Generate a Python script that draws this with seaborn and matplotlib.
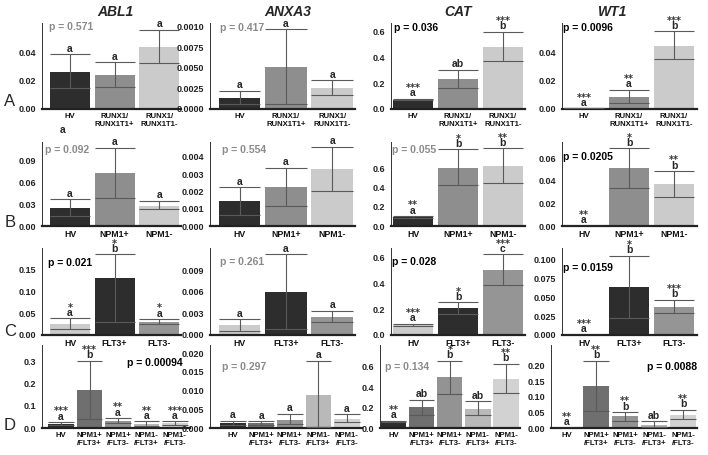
"""Small-multiples bar chart: expression of 4 genes across patient groups"""
import numpy as np
import pandas as pd
import matplotlib
matplotlib.use("Agg")
import matplotlib.pyplot as plt
import seaborn as sns

sns.set_theme(style="white")
plt.rcParams["font.family"] = ["Liberation Sans", "DejaVu Sans"]

# ---------------- data ----------------
genes = ["ABL1", "ANXA3", "CAT", "WT1"]
rows = ["A", "B", "C", "D"]

groups_A = ["HV", "RUNX1/\nRUNX1T1+", "RUNX1/\nRUNX1T1-"]
groups_B = ["HV", "NPM1+", "NPM1-"]
groups_C = ["HV", "FLT3+", "FLT3-"]
groups_D = ["HV", "NPM1+\n/FLT3+", "NPM1+\n/FLT3-", "NPM1-\n/FLT3+", "NPM1-\n/FLT3-"]

# means / lower / upper error per gene (ABL1, ANXA3, CAT, WT1)
mean_A = [[0.0264, 0.0240, 0.0440], [0.0013, 0.0051, 0.0026], [0.070, 0.231, 0.486], [0.0004, 0.0088, 0.0450]]
low_A = [[0.0146, 0.0153, 0.0327], [0.0006, 0.0006, 0.0017], [0.068, 0.161, 0.374], [0.0004, 0.0040, 0.0353]]
high_A = [[0.0388, 0.0330, 0.0558], [0.0022, 0.0097, 0.0035], [0.080, 0.304, 0.603], [0.0004, 0.0135, 0.0550]]

mean_B = [[0.0243, 0.0735, 0.0280], [0.00146, 0.00227, 0.00329], [0.088, 0.603, 0.620], [0.0003, 0.0517, 0.0372]]
low_B = [[0.0138, 0.0380, 0.0234], [0.00063, 0.00117, 0.00204], [0.086, 0.421, 0.448], [0.0003, 0.0340, 0.0260]]
high_B = [[0.0367, 0.1080, 0.0350], [0.00223, 0.00336, 0.00458], [0.103, 0.793, 0.803], [0.0003, 0.0688, 0.0487]]

mean_C = [[0.0243, 0.1290, 0.0290], [0.00138, 0.00590, 0.00254], [0.077, 0.206, 0.502], [0.0002, 0.0639, 0.0374]]
low_C = [[0.0130, 0.0300, 0.0250], [0.00055, 0.00083, 0.00175], [0.070, 0.160, 0.386], [0.0002, 0.0229, 0.0286]]
high_C = [[0.0380, 0.1840, 0.0360], [0.00217, 0.01117, 0.00337], [0.085, 0.252, 0.623], [0.0002, 0.1048, 0.0463]]

mean_D = [[0.018, 0.169, 0.033, 0.018, 0.0225],
          [0.00134, 0.00134, 0.0022, 0.0089, 0.0025],
          [0.066, 0.203, 0.498, 0.190, 0.485],
          [0.0003, 0.134, 0.0374, 0.0107, 0.0428]]
low_D = [[0.012, 0.040, 0.022, 0.0105, 0.015],
         [0.0007, 0.0009, 0.0011, 0.0002, 0.0016],
         [0.062, 0.131, 0.334, 0.125, 0.344],
         [0.0003, 0.0556, 0.0235, 0.002, 0.030]]
high_D = [[0.027, 0.303, 0.045, 0.030, 0.030],
          [0.0020, 0.0018, 0.0038, 0.0180, 0.0037],
          [0.070, 0.279, 0.662, 0.262, 0.630],
          [0.0003, 0.216, 0.051, 0.0214, 0.0588]]

letters_A = [["a", "a", "a"], ["a", "a", "a"], ["a", "ab", "b"], ["a", "a", "b"]]
stars_A = [["", "", ""], ["", "", ""], ["***", "", "***"], ["***", "**", "***"]]
letters_B = [["a", "a", "a"], ["a", "a", "a"], ["a", "b", "b"], ["a", "b", "b"]]
stars_B = [["", "", ""], ["", "", ""], ["**", "*", "**"], ["**", "*", "**"]]
letters_C = [["a", "b", "a"], ["a", "a", "a"], ["a", "b", "c"], ["a", "b", "b"]]
stars_C = [["*", "*", "*"], ["", "", ""], ["***", "*", "***"], ["***", "*", "***"]]
letters_D = [["a", "b", "a", "a", "a"], ["a", "a", "a", "a", "a"],
             ["a", "ab", "b", "ab", "b"], ["a", "b", "b", "ab", "b"]]
stars_D = [["***", "***", "**", "**", "***"], ["", "", "", "", ""],
           ["**", "", "*", "", "**"], ["**", "**", "**", "", "**"]]

pvals_A = ["0.571", "0.417", "0.036", "0.0096"]
pvals_B = ["0.092", "0.554", "0.055", "0.0205"]
pvals_C = ["0.021", "0.261", "0.028", "0.0159"]
pvals_D = ["0.00094", "0.297", "0.134", "0.0088"]

yticks_A = [[0, 0.02, 0.04], [0, 0.0025, 0.005, 0.0075, 0.01], [0, 0.2, 0.4, 0.6], [0, 0.02, 0.04]]
ytlab_A = [["0.00", "0.02", "0.04"], ["0.0000", "0.0025", "0.0050", "0.0075", "0.0010"],
           ["0.0", "0.2", "0.4", "0.6"], ["0.00", "0.02", "0.04"]]
yticks_B = [[0, 0.03, 0.06, 0.09], [0, 0.001, 0.002, 0.003, 0.004], [0, 0.2, 0.4, 0.6], [0, 0.02, 0.04, 0.06]]
ytlab_B = [["0.00", "0.03", "0.06", "0.09"], ["0.000", "0.001", "0.002", "0.003", "0.004"],
           ["0.0", "0.2", "0.4", "0.6"], ["0.00", "0.02", "0.04", "0.06"]]
yticks_C = [[0, 0.05, 0.10, 0.15], [0, 0.003, 0.006, 0.009], [0, 0.2, 0.4, 0.6], [0, 0.025, 0.05, 0.075, 0.1]]
ytlab_C = [["0.00", "0.05", "0.10", "0.15"], ["0.000", "0.003", "0.006", "0.009"],
           ["0.0", "0.2", "0.4", "0.6"], ["0.000", "0.025", "0.050", "0.075", "0.100"]]
yticks_D = [[0, 0.1, 0.2, 0.3], [0, 0.005, 0.01, 0.015, 0.02], [0, 0.2, 0.4, 0.6], [0, 0.05, 0.1, 0.15, 0.2]]
ytlab_D = [["0.0", "0.1", "0.2", "0.3"], ["0.000", "0.005", "0.010", "0.015", "0.020"],
           ["0.0", "0.2", "0.4", "0.6"], ["0.00", "0.05", "0.10", "0.15", "0.20"]]

colors_A = ["#2d2d2d", "#8e8e8e", "#cbcbcb"]
colors_B = ["#2d2d2d", "#8e8e8e", "#cbcbcb"]
colors_C = ["#cbcbcb", "#2d2d2d", "#959595"]
colors_D = ["#2d2d2d", "#6f6f6f", "#939393", "#b9b9b9", "#d2d2d2"]

# ---------------- layout (pixels of a 708x455 figure) ----------------
W, H = 708, 455
row_px = [(23, 109), (142, 226), (248, 335), (345, 428)]
col_px = [[(42, 181), (210, 355), (391, 525), (562, 697)]] * 3 + [[(42, 190), (210, 362), (380, 520), (551, 697)]]
xlims = [[(-0.63, 2.49), (-0.64, 2.49), (-0.49, 2.49), (-0.49, 2.51)]] * 3 + \
        [[(-0.67, 4.53), (-0.8, 4.53), (-0.49, 4.5), (-0.55, 4.48)]]
ylims = [[0.0607, 0.01044, 0.67, 0.061],
         [0.1158, 0.00485, 0.869, 0.0744],
         [0.1986, 0.01205, 0.672, 0.115],
         [0.374, 0.0222, 0.816, 0.266]]
ppos = [[(0.05, 0.95, "left"), (0.07, 0.94, "left"), (0.02, 0.94, "left"), (0.01, 0.94, "left")],
        [(0.02, 0.90, "left"), (0.08, 0.90, "left"), (0.01, 0.90, "left"), (0.01, 0.82, "left")],
        [(0.04, 0.83, "left"), (0.07, 0.84, "left"), (0.01, 0.84, "left"), (0.01, 0.77, "left")],
        [(0.95, 0.78, "right"), (0.08, 0.74, "left"), (0.036, 0.74, "left"), (1.0, 0.74, "right")]]
xlab_size = [5.6, 6.3, 6.3, 5.6]

ERR = "#5a5a5a"
GRAY_TXT = "#8a8a8a"
BOLD = dict(fontweight="bold")
STAR_FONT = ["DejaVu Sans"]

all_groups = [groups_A, groups_B, groups_C, groups_D]
all_mean = [mean_A, mean_B, mean_C, mean_D]
all_low = [low_A, low_B, low_C, low_D]
all_high = [high_A, high_B, high_C, high_D]
all_letters = [letters_A, letters_B, letters_C, letters_D]
all_stars = [stars_A, stars_B, stars_C, stars_D]
all_p = [pvals_A, pvals_B, pvals_C, pvals_D]
all_ticks = [yticks_A, yticks_B, yticks_C, yticks_D]
all_tlab = [ytlab_A, ytlab_B, ytlab_C, ytlab_D]
all_colors = [colors_A, colors_B, colors_C, colors_D]

fig = plt.figure(figsize=(W / 100, H / 100), dpi=100)
fig.patch.set_facecolor("white")

for r in range(4):
    top, bot = row_px[r]
    groups = all_groups[r]
    for c in range(4):
        left, right = col_px[r][c]
        ax = fig.add_axes([left / W, 1 - bot / H, (right - left) / W, (bot - top) / H])
        ax.set_facecolor("none")
        df = pd.DataFrame({"group": groups, "value": all_mean[r][c]})
        sns.barplot(data=df, x="group", y="value", hue="group", order=groups, hue_order=groups,
                    palette=all_colors[r], width=0.9, saturation=1, legend=False,
                    errorbar=None, linewidth=0, ax=ax)
        xs = np.arange(len(groups))
        lo = np.array(all_low[r][c])
        hi = np.array(all_high[r][c])
        ax.vlines(xs, lo, hi, color=ERR, lw=0.8, zorder=3)
        ax.hlines(hi, xs - 0.45, xs + 0.45, color=ERR, lw=0.8, zorder=3)
        ax.hlines(lo, xs - 0.45, xs + 0.45, color=ERR, lw=0.8, zorder=3)

        for i, x in enumerate(xs):
            ax.annotate(all_letters[r][c][i], (x, hi[i]), xytext=(0, 1.8), textcoords="offset points",
                        ha="center", va="baseline", fontsize=7.5, annotation_clip=False, **BOLD)
            if all_stars[r][c][i]:
                ax.annotate(all_stars[r][c][i], (x, hi[i]), xytext=(0, 5.6), textcoords="offset points",
                            ha="center", va="baseline", fontsize=7, color="#333333",
                            family=STAR_FONT, annotation_clip=False, **BOLD)

        ax.set_xlim(*xlims[r][c])
        ax.set_ylim(0, ylims[r][c])
        ax.set_yticks(all_ticks[r][c])
        ax.set_yticklabels(all_tlab[r][c], fontsize=6.5, **BOLD)
        ax.set_xticks(xs)
        ax.set_xticklabels(groups, fontsize=xlab_size[r], linespacing=1.1, **BOLD)
        ax.tick_params(axis="y", length=3, width=0.6, pad=1, direction="out", colors="#222222")
        ax.tick_params(axis="x", length=0, pad=3, colors="#111111")
        ax.set_xlabel("")
        ax.set_ylabel("")
        for s in ["top", "right"]:
            ax.spines[s].set_visible(False)
        ax.spines["left"].set_linewidth(0.7)
        ax.spines["left"].set_color("#333333")
        ax.spines["bottom"].set_linewidth(1.6)
        ax.spines["bottom"].set_color("#222222")

        p = all_p[r][c]
        px, py, ha = ppos[r][c]
        ax.text(px, py, f"p = {p}", transform=ax.transAxes, ha=ha, va="center",
                fontsize=7.5, fontweight="bold",
                color="black" if float(p) < 0.05 else GRAY_TXT)

# column titles and row labels
title_x = [115, 288, 458, 613]
for g, x in zip(genes, title_x):
    fig.text(x / W, 1 - 12 / H, g, ha="center", va="center", fontsize=10,
             fontweight="bold", style="italic")
row_y = [102, 222, 331, 426]
for lab, y in zip(rows, row_y):
    fig.text(10 / W, 1 - y / H, lab, ha="center", va="center", fontsize=12)

# stray letter below the first HV label
fig.text(63 / W, 1 - 130 / H, "a", ha="center", va="center", fontsize=7.5, **BOLD)

fig.savefig("out.png", dpi=100, facecolor="white")
